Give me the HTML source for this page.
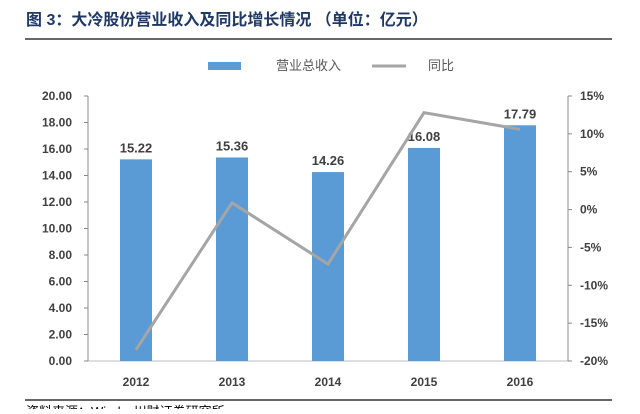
<!DOCTYPE html>
<html><head><meta charset="utf-8"><style>
body{margin:0;background:#fff;width:640px;height:409px;overflow:hidden;font-family:"Liberation Sans","Noto Sans CJK SC",sans-serif}
</style></head><body>
<svg width="640" height="409" xmlns="http://www.w3.org/2000/svg">
<text x="26" y="25" font-size="16" font-weight="bold" fill="#1f3864" font-family="Liberation Sans,Noto Sans CJK SC,sans-serif">图 3：大冷股份营业收入及同比增长情况 （单位：亿元）</text>
<line x1="25" y1="39" x2="612" y2="39" stroke="#333" stroke-width="1.5"/>
<g>
<rect x="208" y="62" width="33" height="8" fill="#5b9bd5"/>
<text x="276" y="70" font-size="13" fill="#595959">营业总收入</text>
<line x1="372" y1="66" x2="406" y2="66" stroke="#a5a5a5" stroke-width="3"/>
<text x="428" y="70" font-size="13" fill="#595959">同比</text>
</g>
<g id="plot"></g>
<line x1="25" y1="400" x2="612" y2="400" stroke="#333" stroke-width="1.5"/>
<text x="26" y="416" font-size="13" fill="#000">资料来源：Wind，川财证券研究所</text>
</svg>
<script>
const years=["2012","2013","2014","2015","2016"];
const revenue=[15.22,15.36,14.26,16.08,17.79];
const yoy=[-18.5,0.9,-7.2,12.8,10.6];
const leftTicks=[0,2,4,6,8,10,12,14,16,18,20];
const rightTicks=[-20,-15,-10,-5,0,5,10,15];
const NS="http://www.w3.org/2000/svg";
const g=document.getElementById('plot');
const x0=88,x1=568,yTop=96,yBot=361;
const yL=v=>yBot-(v/20)*(yBot-yTop);
const yR=p=>yBot-((p+20)/35)*(yBot-yTop);
const step=(x1-x0)/years.length;
const xc=i=>x0+step*(i+0.5);
function mk(t,a){const e=document.createElementNS(NS,t);for(const k in a)e.setAttribute(k,a[k]);g.appendChild(e);return e;}
leftTicks.forEach(v=>{
 const l=mk('line',{x1:x0,y1:yL(v),x2:x1,y2:yL(v),stroke:v===0?'#bfbfbf':'none'});
 
 
 const tk=mk('line',{x1:x0-4,y1:yL(v),x2:x0,y2:yL(v),stroke:'#888'});
 
 
 const t=mk('text',{x:x0-16,y:yL(v)+4,'font-size':12,'font-weight':'bold',fill:'#404040','text-anchor':'end'});
 t.textContent=v.toFixed(2);
 
 
});
rightTicks.forEach(p=>{
 const tk=mk('line',{x1:x1,y1:yR(p),x2:x1+4,y2:yR(p),stroke:'#888'});
 
 
 const t=mk('text',{x:x1+12,y:yR(p)+4,'font-size':12,'font-weight':'bold',fill:'#404040'});
 t.textContent=p+'%';
 
 
});
const la=mk('line',{x1:x0,y1:yTop,x2:x0,y2:yBot,stroke:'#888'});


const ra=mk('line',{x1:x1,y1:yTop,x2:x1,y2:yBot,stroke:'#888'});


const bw=32;
revenue.forEach((v,i)=>{
 const r=mk('rect',{x:xc(i)-bw/2,y:yL(v),width:bw,height:yBot-yL(v),fill:'#5b9bd5'});
 
 
 const t=mk('text',{x:xc(i),y:yL(v)-7,'font-size':13,'font-weight':'bold',fill:'#404040','text-anchor':'middle'});
 t.textContent=v.toFixed(2);
 
 
 const xl=mk('text',{x:xc(i),y:386,'font-size':12,'font-weight':'bold',fill:'#404040','text-anchor':'middle'});
 xl.textContent=years[i];
 
 
});
const pl=mk('polyline',{points:yoy.map((p,i)=>xc(i)+','+yR(p)).join(' '),fill:'none',stroke:'#a5a5a5','stroke-width':3});


</script>
</body></html>
